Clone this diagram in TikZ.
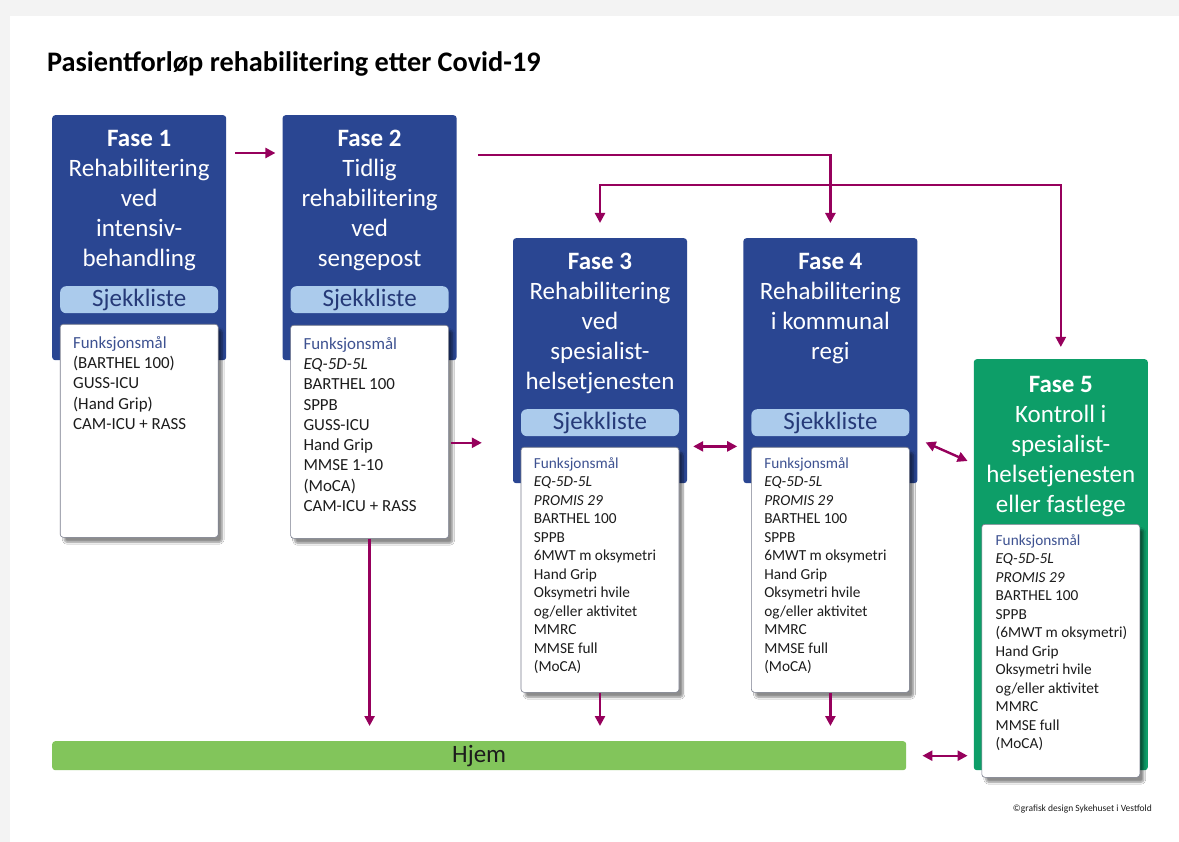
\documentclass[tikz,border=0pt]{standalone}
\usepackage{fontspec}
\setmainfont{Carlito}
\usepackage{tikz}
\usetikzlibrary{positioning,calc,arrows.meta,shadows.blur}
\definecolor{faseblaa}{RGB}{42,70,146}
\definecolor{fasegroenn}{RGB}{13,158,104}
\definecolor{sjekkblaa}{RGB}{171,203,236}
\definecolor{sjekktekst}{RGB}{38,58,120}
\definecolor{maaltittel}{RGB}{62,82,145}
\definecolor{listesvart}{RGB}{28,28,28}
\definecolor{kantgraa}{RGB}{120,124,140}
\definecolor{hjemgroenn}{RGB}{130,197,91}
\definecolor{pilfarge}{RGB}{150,0,92}
\definecolor{bakgrunn}{RGB}{243,243,243}
\def\FaseW{174pt}
\def\FaseH{245pt}
\def\Gap{56pt}
\def\ListeStor{\fontsize{16.9}{20.3}\selectfont}
\def\ListeLiten{\fontsize{15.3}{18.5}\selectfont}
\def\ListeFull#1{{\color{maaltittel}Funksjonsmål}\\\textit{EQ-5D-5L}\\\textit{PROMIS 29}\\BARTHEL 100\\SPPB\\#1\\Hand Grip\\Oksymetri hvile\\og/eller aktivitet\\MMRC\\MMSE full\\(MoCA)}

\begin{document}
\begin{tikzpicture}[x=1pt,y=-1pt,
		fase/.style={fill=faseblaa,rounded corners=3pt,minimum width=\FaseW,minimum height=\FaseH,inner sep=0pt,anchor=north west},
		fasetekst/.style={text=white,align=center,inner sep=0pt,font=\fontsize{25}{30}\selectfont},
		sjekk/.style={fill=sjekkblaa,rounded corners=6pt,minimum width=158pt,minimum height=27pt,inner sep=0pt,text=sjekktekst,font=\fontsize{25}{28}\selectfont},
		maal/.style={fill=white,draw=kantgraa,line width=0.6pt,rounded corners=3pt,minimum width=158pt,inner sep=0pt,
			blur shadow={shadow xshift=4pt,shadow yshift=-5pt,shadow blur steps=8,shadow opacity=45}},
		listetekst/.style={align=left,inner sep=0pt,text=listesvart,anchor=north west},
		pil/.style={draw=pilfarge,line width=2.4pt,-{Triangle[length=10pt,width=10pt]}},
		dobbel/.style={pil,{Triangle[length=10pt,width=10pt]}-{Triangle[length=10pt,width=10pt]}}]
	% background
	\fill[bakgrunn] (0,0) rectangle (1179,842);
	\fill[white] (10,16) rectangle (1179,842);
	\useasboundingbox (0,0) rectangle (1179,842);
	% 
	\node[anchor=base west,inner sep=0pt,font=\bfseries\fontsize{28.3}{32}\selectfont] (tittel) at (47,72) {Pasientforløp rehabilitering etter Covid-19};
	% phase boxes
	\node[fase] (f1) at (52,115) {};
	\node[fase,right=\Gap of f1] (f2) {};
	\node[fase] (f3) at ($(f2.north east)+(56,123)$) {};
	\node[fase,right=\Gap of f3] (f4) {};
	\node[fase,fill=fasegroenn,minimum height=411pt] (f5) at ($(f4.north east)+(56,121)$) {};
	% 
	\node[fasetekst,below=15pt of f1.north] (t1) {\textbf{Fase 1}\\Rehabilitering\\ved\\intensiv-\\behandling};
	\node[fasetekst,below=15pt of f2.north] (t2) {\textbf{Fase 2}\\Tidlig\\rehabilitering\\ved\\sengepost};
	\node[fasetekst,below=15pt of f3.north] (t3) {\textbf{Fase 3}\\Rehabilitering\\ved\\spesialist-\\helsetjenesten};
	\node[fasetekst,below=15pt of f4.north] (t4) {\textbf{Fase 4}\\Rehabilitering\\i kommunal\\regi};
	\node[fasetekst,below=17pt of f5.north] (t5) {\textbf{Fase 5}\\Kontroll i\\spesialist-\\helsetjenesten\\eller fastlege};
	% 
	\foreach \i in {1,...,4}
		\node[sjekk,below=171pt of f\i.north] (s\i) {Sjekkliste};
	% 
	\node[maal,minimum height=213pt,below=209pt of f1.north] (m1) {};
	\node[maal,minimum height=213pt,below=210pt of f2.north] (m2) {};
	\node[maal,minimum height=245pt,below=209pt of f3.north] (m3) {};
	\node[maal,minimum height=245pt,below=209pt of f4.north] (m4) {};
	\node[maal,minimum height=253pt,below=165pt of f5.north] (m5) {};
	% 
	\node[listetekst,font=\ListeStor] (l1) at ([shift={(13,12)}]m1.north west) {{\color{maaltittel}Funksjonsmål}\\(BARTHEL 100)\\GUSS-ICU\\(Hand Grip)\\CAM-ICU + RASS};
	\node[listetekst,font=\ListeStor] (l2) at ([shift={(13,12)}]m2.north west) {{\color{maaltittel}Funksjonsmål}\\\textit{EQ-5D-5L}\\BARTHEL 100\\SPPB\\GUSS-ICU\\Hand Grip\\MMSE 1-10\\(MoCA)\\CAM-ICU + RASS};
	\node[listetekst,font=\ListeLiten] (l3) at ([shift={(13,10)}]m3.north west) {\ListeFull{6MWT m oksymetri}};
	\node[listetekst,font=\ListeLiten] (l4) at ([shift={(13,10)}]m4.north west) {\ListeFull{6MWT m oksymetri}};
	\node[listetekst,font=\ListeLiten] (l5) at ([shift={(14,10)}]m5.north west) {\ListeFull{(6MWT m oksymetri)}};
	% 
	\node[fill=hjemgroenn,rounded corners=3pt,minimum width=854pt,minimum height=29pt,inner sep=0pt,anchor=north west,
		text=listesvart,font=\fontsize{25}{28}\selectfont] (hjem) at (52,741) {Hjem};
	\node[anchor=base east,inner sep=0pt,text=listesvart,font=\fontsize{9.5}{12}\selectfont] (kilde) at (1152,811) {©grafisk design Sykehuset i Vestfold};
	% connectors
	\draw[pil] ([shift={(9,38)}]f1.north east) -- ([shift={(-7,38)}]f2.north west);
	\draw[pil] ([shift={(21,40)}]f2.north east) -| ([yshift=15pt]f4.north);
	\draw[dobbel] ([yshift=15pt]f3.north) -- ([yshift=53pt]f3.north) -| ([yshift=12pt]f5.north);
	\draw[pil,shorten >=31pt] ([shift={(2,11)}]m2.east) -- ([yshift=-11pt]m2.east -| f3.west);
	\draw[dobbel] ([shift={(6,-37)}]f3.south east) -- ([shift={(-6,-37)}]f4.south west);
	\draw[dobbel] ([shift={(8,-41)}]f4.south east) -- ([shift={(-6,102)}]f5.north west);
	\draw[pil] (m2.south) -- ([yshift=15pt]m2.south |- hjem.north);
	\draw[pil] (m3.south) -- ([yshift=15pt]m3.south |- hjem.north);
	\draw[pil] (m4.south) -- ([yshift=15pt]m4.south |- hjem.north);
	\draw[dobbel] ([xshift=16pt]hjem.east) -- ([xshift=-6pt]hjem.east -| f5.west);
\end{tikzpicture}
\end{document}
